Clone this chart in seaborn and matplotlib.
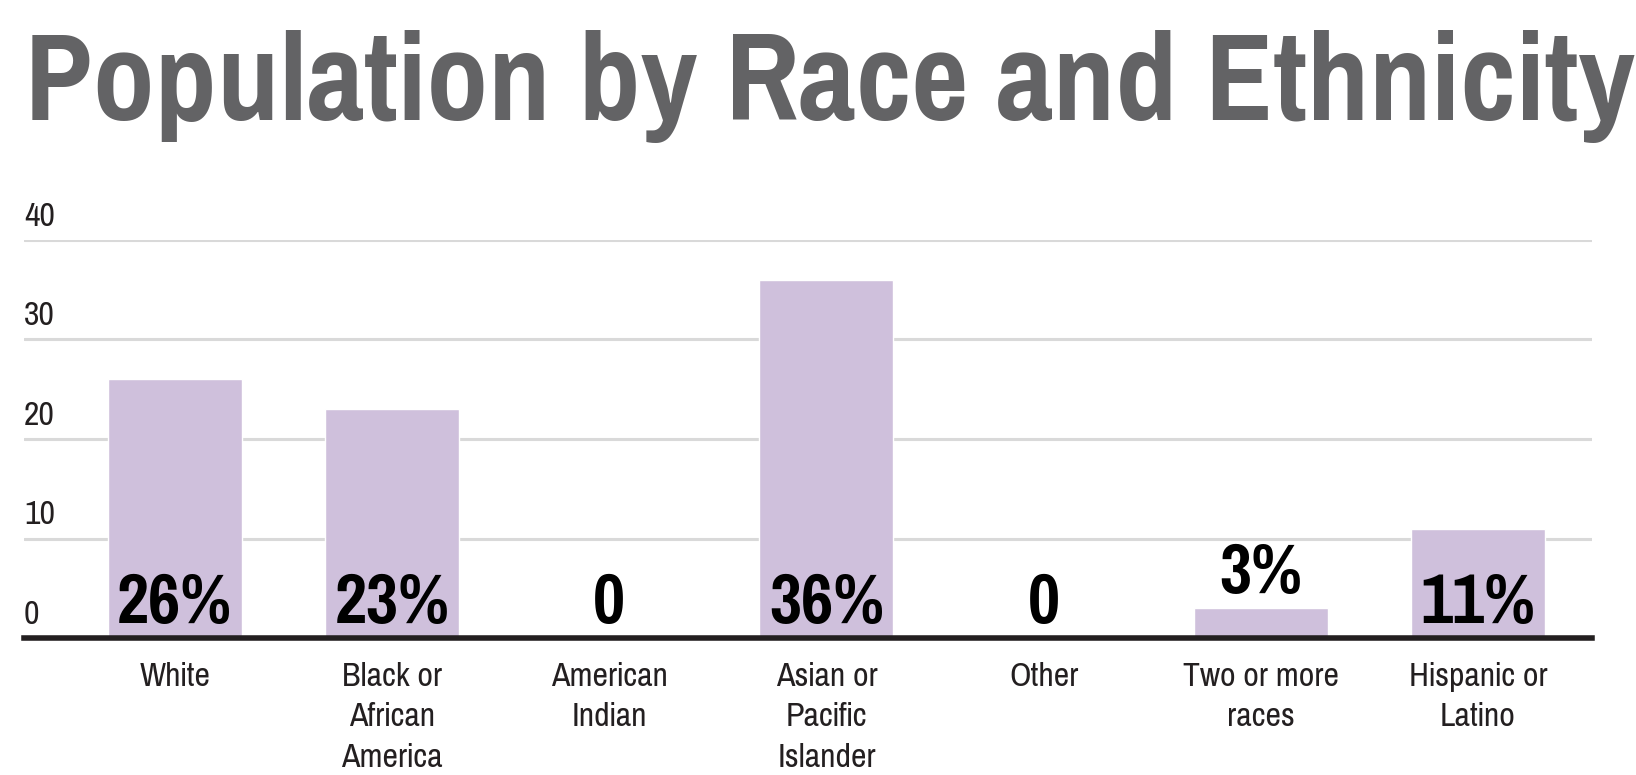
import matplotlib
matplotlib.use("Agg")
import matplotlib.pyplot as plt
import matplotlib.transforms as mtransforms
from matplotlib import font_manager
import seaborn as sns
import pandas as pd

categories = ["White", "Black or\nAfrican\nAmerica", "American\nIndian",
              "Asian or\nPacific\nIslander", "Other", "Two or more\nraces",
              "Hispanic or\nLatino"]
values = [26, 23, 0, 36, 0, 3, 11]
value_labels = ["26%", "23%", "0", "36%", "0", "3%", "11%"]
yticks = [0, 10, 20, 30, 40]
title = "Population by Race and Ethnicity"

names = {f.name for f in font_manager.fontManager.ttflist}
narrow = "Liberation Sans"
for cand in ["Liberation Sans Narrow", "Pragati Narrow", "Roboto Condensed",
             "Archivo Narrow", "Liberation Sans"]:
    if cand in names:
        narrow = cand
        break

sns.set_style("white")
plt.rcParams["font.family"] = [narrow, "DejaVu Sans"]

df = pd.DataFrame({"cat": categories, "val": values})

fig = plt.figure(figsize=(16.36, 7.75), dpi=100)
W, H = 1636, 775
ax = fig.add_axes([24 / W, 137 / H, (1592 - 24) / W, 398 / H])

sns.barplot(data=df, x="cat", y="val", color="#cfc0dc", saturation=1,
            width=0.617, ax=ax)

ax.set_xlim(-0.695, 6.525)
ax.set_ylim(0, 40)
ax.set_yticks(yticks)
ax.set_yticklabels([str(t) for t in yticks])
ax.grid(axis="y", color="#d9d9d9", linewidth=2.2)
ax.set_axisbelow(True)
for s in ["top", "right", "left"]:
    ax.spines[s].set_visible(False)
ax.spines["bottom"].set_color("#231f20")
ax.spines["bottom"].set_linewidth(4)
ax.spines["bottom"].set_zorder(5)
ax.set_xlabel("")
ax.set_ylabel("")

ax.tick_params(axis="y", length=0, pad=0, labelsize=26.5, labelcolor="#231f20")
ax.tick_params(axis="x", length=0, pad=17, labelsize=26.5, labelcolor="#231f20")
off = mtransforms.ScaledTranslation(0, 8 / 100, fig.dpi_scale_trans)
for lab in ax.get_yticklabels():
    lab.set_horizontalalignment("left")
    lab.set_verticalalignment("bottom")
    lab.set_transform(lab.get_transform() + off)
for lab in ax.get_xticklabels():
    lab.set_linespacing(1.45)

# value labels: inside base, or above the bar if too short
lab_off = mtransforms.ScaledTranslation(0, 15 / 100, fig.dpi_scale_trans)
for i, (v, t) in enumerate(zip(values, value_labels)):
    y = v if 0 < v < 6 else 0
    ax.text(i, y, t, ha="center", va="baseline", fontsize=55,
            fontweight="bold", color="black",
            transform=ax.transData + lab_off, zorder=6)

fig.text(25 / W, 1 - 120 / H, title, ha="left", va="baseline",
         fontsize=97, fontweight="bold", color="#636365")

fig.savefig("out.png", dpi=100)
